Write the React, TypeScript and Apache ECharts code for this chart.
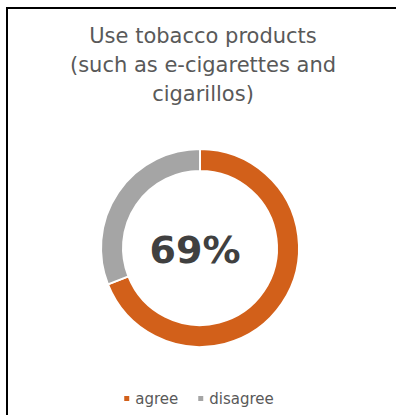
import React, { useEffect, useRef } from "react";
import * as echarts from "echarts";

const categories = ["agree", "disagree"];
const values = [69, 31];
const colors = ["#D2601A", "#A5A5A5"];
const titleText = "Use tobacco products\n(such as e-cigarettes and\ncigarillos)";

export default function App() {
  const ref = useRef<HTMLDivElement>(null);
  useEffect(() => {
    if (!ref.current) return;
    const chart = echarts.init(ref.current, undefined, { renderer: "svg" });
    const font = "'DejaVu Sans', sans-serif";
    chart.setOption({
      animation: false,
      backgroundColor: "#ffffff",
      title: {
        text: titleText,
        left: 198,
        textAlign: "center",
        top: 16,
        textStyle: {
          fontFamily: font,
          fontSize: 21,
          lineHeight: 29,
          fontWeight: "normal",
          color: "#595959",
        },
      },
      legend: {
        data: categories,
        left: "center",
        top: 386,
        icon: "rect",
        itemWidth: 7,
        itemHeight: 7,
        itemGap: 18,
        textStyle: { fontFamily: font, fontSize: 15, color: "#595959" },
      },
      graphic: [
        {
          type: "rect",
          shape: { x: 7, y: 8, width: 600, height: 600 },
          style: { fill: "none", stroke: "#000000", lineWidth: 2 },
          silent: true,
        },
        {
          type: "text",
          x: 195,
          y: 250,
          style: {
            text: `${values[0]}%`,
            fontFamily: font,
            fontSize: 38,
            fontWeight: "bold",
            fill: "#404040",
            align: "center",
            verticalAlign: "middle",
          },
        },
      ],
      series: [
        {
          type: "pie",
          center: [200, 248],
          radius: [77, 99],
          startAngle: 90,
          clockwise: true,
          label: { show: false },
          labelLine: { show: false },
          itemStyle: { borderColor: "#ffffff", borderWidth: 2 },
          data: categories.map((c, i) => ({
            name: c,
            value: values[i],
            itemStyle: { color: colors[i] },
          })),
        },
      ],
    });
    return () => chart.dispose();
  }, []);
  return (
    <div
      ref={ref}
      style={{ position: "fixed", left: 0, top: 0, width: 396, height: 415 }}
    />
  );
}
